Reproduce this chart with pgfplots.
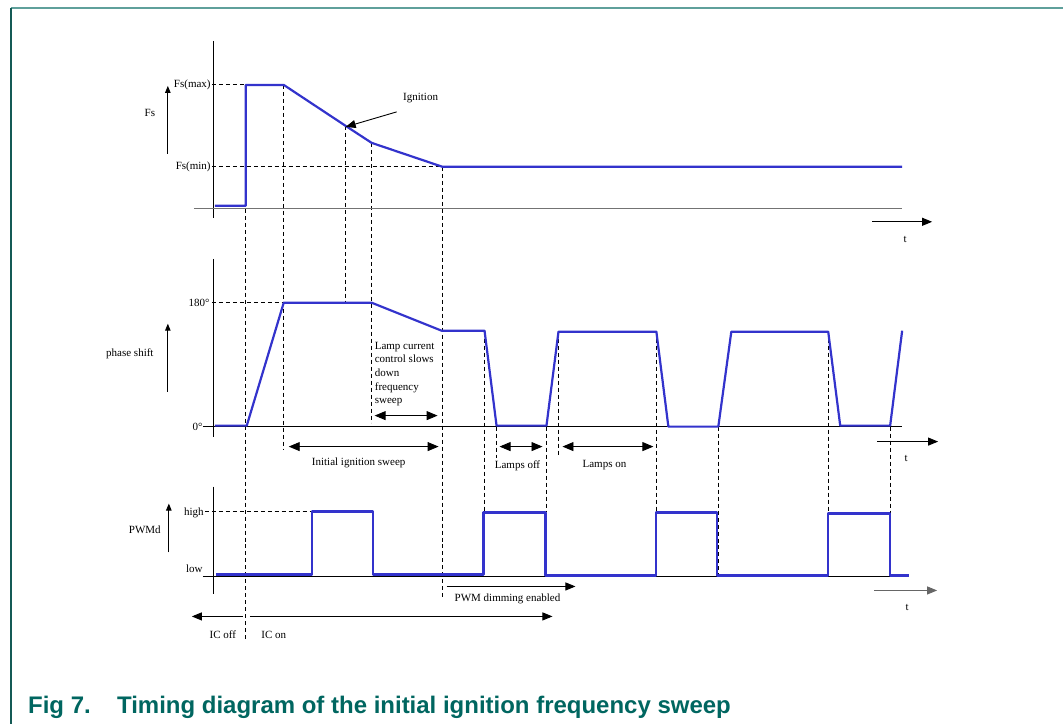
\documentclass[border=0pt]{standalone}
\usepackage{fontspec}
\setmainfont{Liberation Serif}
\newfontfamily\capfont{Liberation Sans}
\usepackage{pgfplots}
\pgfplotsset{compat=1.18}
\usetikzlibrary{arrows.meta}
\definecolor{sigblue}{RGB}{51,51,204}
\definecolor{capteal}{RGB}{0,102,96}
\definecolor{frametop}{RGB}{95,160,155}
\definecolor{frameleft}{RGB}{20,90,85}
\tikzset{
  dimline/.style={black, line width=0.9bp, dash pattern=on 4bp off 3bp},
  axline/.style={black, line width=0.9bp},
  sigline/.style={color=sigblue, line width=2.2bp, line join=round},
  arr/.style={black, line width=0.9bp, -{Triangle[length=10bp,width=8bp]}},
  sarr/.style={black, line width=0.9bp, -{Triangle[length=7bp,width=5.5bp]}},
  darr/.style={black, line width=0.9bp, {Triangle[length=11bp,width=9bp]}-{Triangle[length=11bp,width=9bp]}},
  lbl/.style={font=\fontsize{11bp}{13.7bp}\selectfont, inner sep=0pt},
  figcap/.style={anchor=base west, inner sep=0pt, text=capteal, font=\capfont\bfseries\fontsize{24bp}{28bp}\selectfont}
}
\begin{document}
\begin{tikzpicture}
\begin{axis}[scale only axis, width=1064bp, height=725bp,
  xmin=0, xmax=1064, ymin=0, ymax=725, y dir=reverse,
  axis lines=none, clip=false]

% page extent
\addplot[draw=none] coordinates {(0,0) (1064,725)};
% frame
\addplot[frametop, line width=2bp] coordinates {(11,8) (1064,8)};
\addplot[frameleft, line width=1.5bp] coordinates {(11,8) (11,725)};

% ---------- dashed guide lines ----------
\addplot[dimline] coordinates {(212,85) (246,85)};
\addplot[dimline] coordinates {(212,167) (443,167)};
\addplot[dimline] coordinates {(212,303) (284,303)};
\addplot[dimline] coordinates {(205,512) (312,512)};
\addplot[dimline] coordinates {(246,209) (246,640)};
\addplot[dimline] coordinates {(284,85) (284,450)};
\addplot[dimline] coordinates {(346,126) (346,303)};
\addplot[dimline] coordinates {(372,143) (372,423)};
\addplot[dimline] coordinates {(443,167) (443,598)};
\addplot[dimline] coordinates {(485,332) (485,512)};
\addplot[dimline] coordinates {(497,427) (497,458)};
\addplot[dimline] coordinates {(547,427) (547,512)};
\addplot[dimline] coordinates {(559,332) (559,455)};
\addplot[dimline, line width=1.4bp] coordinates {(657,332) (657,513)};
\addplot[dimline] coordinates {(719,427) (719,577)};
\addplot[dimline] coordinates {(829,332) (829,514)};
\addplot[dimline] coordinates {(891,427) (891,577)};

% ---------- axes ----------
% panel 1
\addplot[axline] coordinates {(214,41) (214,218)};
\addplot[color=black!55, line width=1.2bp] coordinates {(194,209) (903,209)};
\addplot[arr] coordinates {(873,222) (933,222)};
\addplot[sarr] coordinates {(168,154) (168,86)};
% panel 2
\addplot[axline] coordinates {(214,259) (214,437)};
\addplot[axline] coordinates {(203,427) (903,427)};
\addplot[arr] coordinates {(878,442) (939,442)};
\addplot[sarr] coordinates {(168,392) (168,324)};
% panel 3
\addplot[axline] coordinates {(214,487) (214,595)};
\addplot[axline] coordinates {(203,577) (910,577)};
\addplot[arr, color=black!60] coordinates {(875,591) (938,591)};
\addplot[sarr] coordinates {(169,553) (169,504)};

% ---------- signals ----------
\addplot[sigline] coordinates {(215,206) (246,206) (246,85) (284,85) (346,126) (372,143) (443,167) (903,167)};
\addplot[sigline] coordinates {(215,426) (247,426) (284,303) (372,303) (442,331) (485,331) (497,426) (547,426) (559,332) (657,332) (669,427) (719,427) (732,332) (829,332) (841,426) (891,426) (903,331)};
\addplot[sigline] coordinates {(216,575) (312,575) (312,512) (373,512) (373,575) (484,575) (484,513) (546,513) (546,576) (657,576) (657,513) (718,513) (718,576) (829,576) (829,514) (891,514) (891,576) (910,576)};

% ---------- annotation arrows ----------
\addplot[arr] coordinates {(397,112) (346,127)};
\addplot[darr] coordinates {(375,416) (438,416)};
\addplot[darr] coordinates {(289,447) (439,447)};
\addplot[darr] coordinates {(500,447) (543,447)};
\addplot[darr] coordinates {(563,447) (654,447)};
\addplot[arr] coordinates {(447,587) (576,587)};
\addplot[arr] coordinates {(243,617) (192,617)};
\addplot[arr] coordinates {(250,617) (553,617)};

% ---------- labels ----------
\node[lbl, anchor=east] at (axis cs:211,85) {Fs(max)};
\node[lbl, anchor=east] at (axis cs:211,167) {Fs(min)};
\node[lbl] at (axis cs:150,113) {Fs};
\node[lbl] at (axis cs:421,98) {Ignition};
\node[lbl] at (axis cs:906,240) {t};
\node[lbl, anchor=east] at (axis cs:210,303) {180°};
\node[lbl, anchor=east] at (axis cs:203,427) {0°};
\node[lbl] at (axis cs:130,354) {phase shift};
\node[lbl, anchor=north west, align=left] at (axis cs:375,342) {Lamp current\\control slows\\down\\frequency\\sweep};
\node[lbl] at (axis cs:359,463) {Initial ignition sweep};
\node[lbl] at (axis cs:518,466) {Lamps off};
\node[lbl] at (axis cs:605,466) {Lamps on};
\node[lbl] at (axis cs:907,459) {t};
\node[lbl] at (axis cs:145,530) {PWMd};
\node[lbl, anchor=east] at (axis cs:204,513) {high};
\node[lbl, anchor=east] at (axis cs:203,569) {low};
\node[lbl] at (axis cs:508,599) {PWM dimming enabled};
\node[lbl] at (axis cs:908,608) {t};
\node[lbl] at (axis cs:223,635) {IC off};
\node[lbl] at (axis cs:274,635) {IC on};

% ---------- caption ----------
\node[figcap] at (axis cs:28,714) {Fig 7.};
\node[figcap] at (axis cs:117,714) {Timing diagram of the initial ignition frequency sweep};
\end{axis}
\end{tikzpicture}
\end{document}
